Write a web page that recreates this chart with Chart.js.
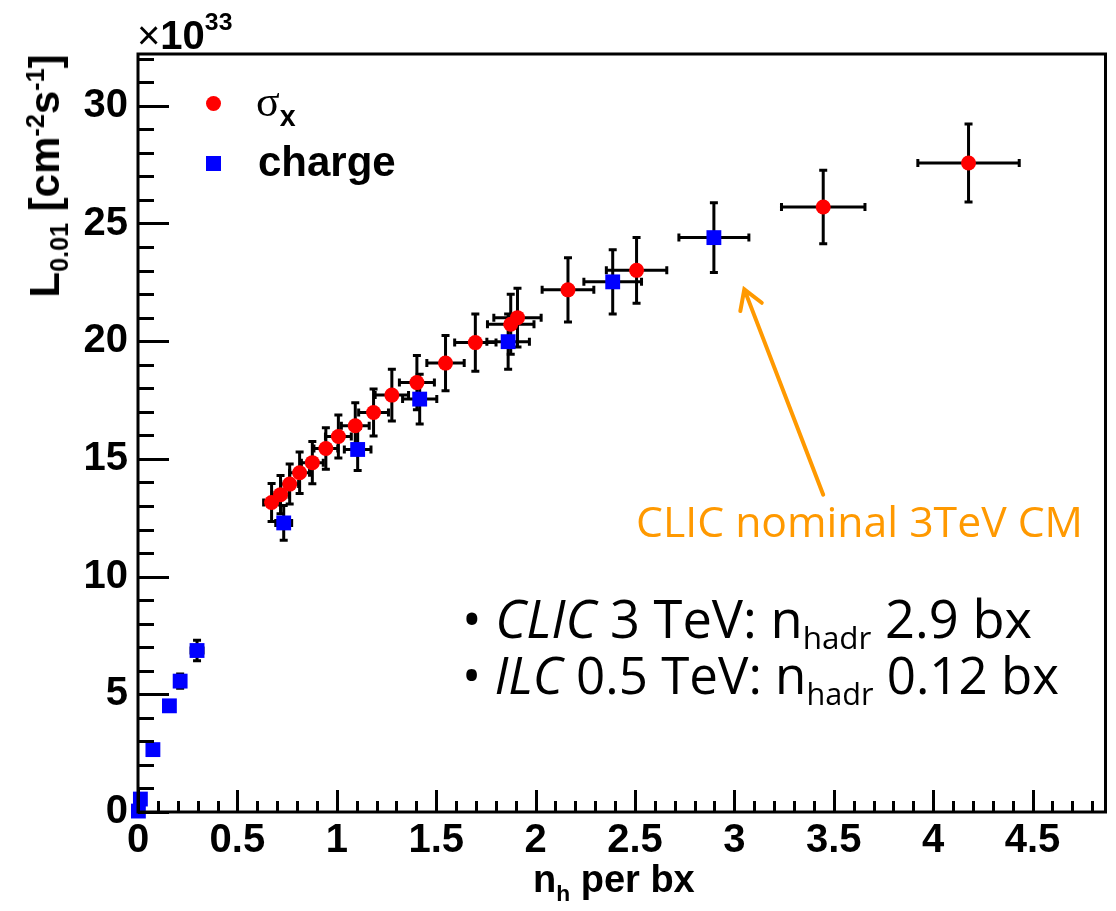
<!DOCTYPE html>
<html>
<head>
<meta charset="utf-8">
<script src="https://cdn.jsdelivr.net/npm/chart.js@4.4.1/dist/chart.umd.min.js"></script>
<style>
  html, body { margin: 0; padding: 0; background: #fff; }
  #wrap { position: relative; width: 1116px; height: 911px; overflow: hidden; }
  canvas { position: absolute; left: 0; top: 0; }
  .t { position: absolute; white-space: nowrap; line-height: 1; color: #000; }
  .b { font-family: "Liberation Sans", Arial, sans-serif; font-weight: bold; }
  .c { font-family: "Open Sans", "Noto Sans", sans-serif; }
  sub, sup { font-size: 0.6em; line-height: 0; }
</style>
</head>
<body>
<div id="wrap">
  <canvas id="chart" width="1116" height="911"></canvas>
  <div class="t b" id="exp" style="left:137px; top:15px; font-size:40px;"><span style="font-weight:normal;">×</span>10<sup style="font-size:0.62em;position:relative;top:-0.2em;">33</sup></div>
  <div class="t b" id="ytitle" style="left:45px; top:176px; font-size:42px; transform:translate(-50%,-50%) rotate(-90deg);">L<sub>0.01</sub> [cm<sup>-2</sup>s<sup>-1</sup>]</div>
  <div class="t b" id="xtitle" style="left:533px; top:860px; font-size:38px;">n<sub>h</sub> per bx</div>
  <div style="position:absolute; left:206px; top:96px; width:15px; height:15px; border-radius:50%; background:#ff0000;"></div>
  <div style="position:absolute; left:206px; top:156px; width:15px; height:15px; background:#0000ff;"></div>
  <div class="t" style="left:256px; top:80px; font-family:'Liberation Serif',serif; font-size:44px;">σ<sub class="b" style="font-size:0.65em;">x</sub></div>
  <div class="t b" style="left:258px; top:141px; font-size:42px;">charge</div>
  <div class="t c fit" data-w="447" style="left:636px; top:500px; font-size:40px; color:#ff9900;">CLIC nominal 3TeV CM</div>
  <div class="t c fit" data-w="570" style="left:462px; top:592px; font-size:42px;">• <i>CLIC</i> 3 TeV: n<sub>hadr</sub> 2.9 bx</div>
  <div class="t c fit" data-w="597" style="left:462px; top:649px; font-size:42px;">• <i>ILC</i> 0.5 TeV: n<sub>hadr</sub> 0.12 bx</div>
</div>
<script>
// ---- data ----
const sigmaX    = [0.672, 0.717, 0.763, 0.813, 0.877, 0.945, 1.008, 1.093, 1.185, 1.277, 1.403, 1.547, 1.697, 1.875, 1.909, 2.163, 2.508, 3.447, 4.178];
const sigmaY    = [13.15, 13.48, 13.93, 14.41, 14.84, 15.44, 15.95, 16.41, 16.97, 17.71, 18.24, 19.07, 19.94, 20.72, 21.00, 22.18, 23.01, 25.70, 27.57];
const sigmaXErr = [0.040, 0.043, 0.045, 0.050, 0.055, 0.060, 0.065, 0.070, 0.075, 0.084, 0.088, 0.094, 0.104, 0.117, 0.119, 0.130, 0.152, 0.210, 0.255];
const sigmaYErr = [0.81, 0.81, 0.85, 0.88, 0.90, 0.88, 0.91, 0.97, 1.00, 1.10, 1.15, 1.17, 1.22, 1.27, 1.25, 1.36, 1.40, 1.56, 1.66];

const chargeX    = [0.002, 0.012, 0.075, 0.158, 0.212, 0.297, 0.733, 1.105, 1.417, 1.862, 2.388, 2.897];
const chargeY    = [0.04, 0.55, 2.65, 4.51, 5.56, 6.86, 12.28, 15.40, 17.54, 19.98, 22.52, 24.40];
const chargeXErr = [0.001, 0.002, 0.008, 0.017, 0.022, 0.030, 0.040, 0.067, 0.086, 0.107, 0.145, 0.176];
const chargeYErr = [0.01, 0.03, 0.13, 0.20, 0.30, 0.44, 0.74, 0.89, 1.06, 1.17, 1.36, 1.48];

const xTickValues = [0, 0.5, 1, 1.5, 2, 2.5, 3, 3.5, 4, 4.5];
const yTickValues = [0, 5, 10, 15, 20, 25, 30];
const xRange = [0, 4.867];
const yRange = [0, 32.2];
const arrowFrom = [3.447, 13.48];
const arrowTo   = [3.05, 22.2];

// fit the annotation text widths
document.querySelectorAll('.fit').forEach(el => {
  const w = el.getBoundingClientRect().width;
  const target = parseFloat(el.dataset.w);
  const fs = parseFloat(el.style.fontSize);
  el.style.fontSize = (fs * target / w).toFixed(2) + 'px';
});

const errorBars = {
  id: 'errorBars',
  beforeDatasetsDraw(chart) {
    const { ctx, scales: { x, y } } = chart;
    const sets = [[sigmaX, sigmaY, sigmaXErr, sigmaYErr], [chargeX, chargeY, chargeXErr, chargeYErr]];
    ctx.save();
    ctx.strokeStyle = '#000';
    ctx.lineWidth = 3;
    const cap = 4;
    sets.forEach(([xs, ys, exs, eys]) => {
      xs.forEach((xv, i) => {
        const px = x.getPixelForValue(xv), py = y.getPixelForValue(ys[i]);
        const x1 = x.getPixelForValue(xv - exs[i]), x2 = x.getPixelForValue(xv + exs[i]);
        const y1 = y.getPixelForValue(ys[i] - eys[i]), y2 = y.getPixelForValue(ys[i] + eys[i]);
        ctx.beginPath();
        if (x2 - x1 > 6) {
          ctx.moveTo(x1, py); ctx.lineTo(x2, py);
          ctx.moveTo(x1, py - cap); ctx.lineTo(x1, py + cap);
          ctx.moveTo(x2, py - cap); ctx.lineTo(x2, py + cap);
        }
        if (y1 - y2 > 6) {
          ctx.moveTo(px, y1); ctx.lineTo(px, y2);
          ctx.moveTo(px - cap, y1); ctx.lineTo(px + cap, y1);
          ctx.moveTo(px - cap, y2); ctx.lineTo(px + cap, y2);
        }
        ctx.stroke();
      });
    });
    ctx.restore();
  }
};

const frameAndArrow = {
  id: 'frameAndArrow',
  afterDraw(chart) {
    const { ctx, chartArea: a, scales: { x, y } } = chart;
    ctx.save();
    ctx.strokeStyle = '#000';
    ctx.lineWidth = 3;
    ctx.strokeRect(a.left, a.top, a.right - a.left, a.bottom - a.top);
    ctx.beginPath();
    for (let i = 0; i * 0.1 <= xRange[1] + 1e-9; i++) {
      const px = Math.round(x.getPixelForValue(i * 0.1)) + 0.5;
      const len = (i % 5 === 0) ? 22 : 11;
      ctx.moveTo(px, a.bottom); ctx.lineTo(px, a.bottom - len);
    }
    for (let i = 0; i <= yRange[1] + 1e-9; i++) {
      const py = Math.round(y.getPixelForValue(i)) + 0.5;
      const len = (i % 5 === 0) ? 31 : 16;
      ctx.moveTo(a.left, py); ctx.lineTo(a.left + len, py);
    }
    ctx.stroke();
    // arrow annotation
    const fx = x.getPixelForValue(arrowFrom[0]), fy = y.getPixelForValue(arrowFrom[1]);
    const tx = x.getPixelForValue(arrowTo[0]), ty = y.getPixelForValue(arrowTo[1]);
    const ang = Math.atan2(ty - fy, tx - fx);
    ctx.strokeStyle = '#ff9900';
    ctx.lineWidth = 4;
    ctx.lineCap = 'round';
    ctx.beginPath();
    ctx.moveTo(fx, fy); ctx.lineTo(tx, ty);
    const h = 22, spread = 0.55;
    ctx.moveTo(tx - h * Math.cos(ang - spread), ty - h * Math.sin(ang - spread));
    ctx.lineTo(tx, ty);
    ctx.lineTo(tx - h * Math.cos(ang + spread), ty - h * Math.sin(ang + spread));
    ctx.stroke();
    ctx.restore();
  }
};

const tickFont = { family: "'Liberation Sans', Arial, sans-serif", weight: 'bold', size: 40 };

new Chart(document.getElementById('chart'), {
  type: 'scatter',
  data: {
    datasets: [
      {
        label: 'σx',
        data: sigmaX.map((v, i) => ({ x: v, y: sigmaY[i] })),
        pointStyle: 'circle', pointRadius: 7.5, pointHoverRadius: 7.5,
        backgroundColor: '#ff0000', borderColor: '#ff0000', borderWidth: 0,
        clip: false
      },
      {
        label: 'charge',
        data: chargeX.map((v, i) => ({ x: v, y: chargeY[i] })),
        pointStyle: 'rect', pointRadius: 10.5, pointHoverRadius: 10.5,
        backgroundColor: '#0000ff', borderColor: '#0000ff', borderWidth: 0,
        clip: false
      }
    ]
  },
  options: {
    responsive: false,
    animation: false,
    events: [],
    layout: { padding: { left: 0, right: 4, top: 54, bottom: 0 } },
    plugins: { legend: { display: false }, tooltip: { enabled: false } },
    scales: {
      x: {
        type: 'linear', min: xRange[0], max: xRange[1],
        grid: { display: false, drawTicks: false },
        border: { display: false },
        afterBuildTicks: s => { s.ticks = xTickValues.map(v => ({ value: v })); },
        afterFit: s => { s.height = 99; },
        ticks: { font: tickFont, color: '#000', padding: 5, maxRotation: 0, autoSkip: false, callback: v => String(v) }
      },
      y: {
        type: 'linear', min: yRange[0], max: yRange[1],
        grid: { display: false, drawTicks: false },
        border: { display: false },
        afterBuildTicks: s => { s.ticks = yTickValues.map(v => ({ value: v })); },
        afterFit: s => { s.width = 138; },
        ticks: { font: tickFont, color: '#000', padding: 10, autoSkip: false, callback: v => String(v) }
      }
    }
  },
  plugins: [errorBars, frameAndArrow]
});
</script>
</body>
</html>
